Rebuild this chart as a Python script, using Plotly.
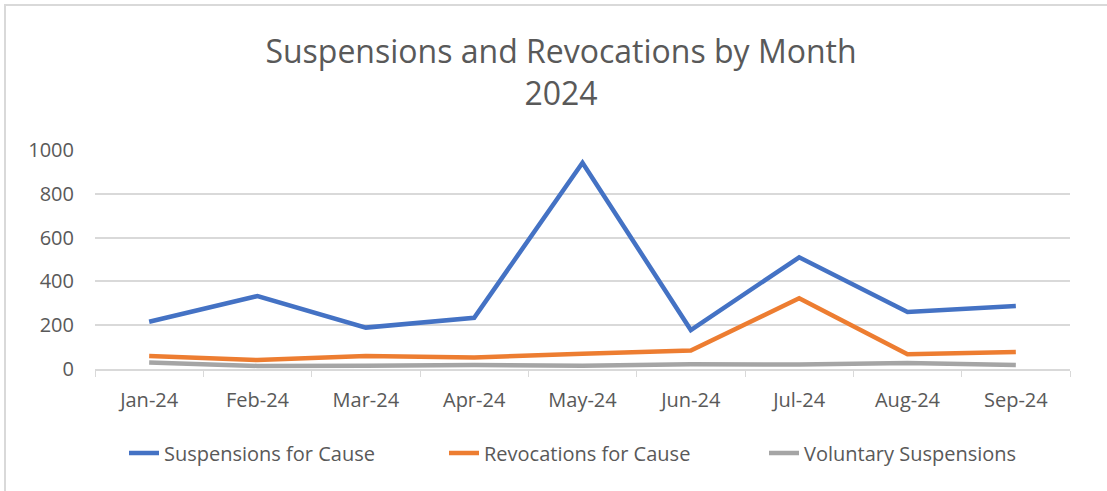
import plotly.graph_objects as go

months = ["Jan-24", "Feb-24", "Mar-24", "Apr-24", "May-24", "Jun-24", "Jul-24", "Aug-24", "Sep-24"]
suspensions_cause = [216, 333, 189, 234, 942, 178, 510, 260, 288]
revocations_cause = [59, 41, 59, 53, 70, 84, 323, 67, 78]
voluntary_susp = [30, 14, 15, 18, 15, 22, 20, 27, 18]
y_ticks = [0, 200, 400, 600, 800, 1000]

FONT = "Open Sans, sans-serif"
TXT = "#595959"

fig = go.Figure()
for name, vals, col in [
    ("Suspensions for Cause", suspensions_cause, "#4472C4"),
    ("Revocations for Cause", revocations_cause, "#ED7D31"),
    ("Voluntary Suspensions", voluntary_susp, "#A5A5A5"),
]:
    fig.add_trace(go.Scatter(x=months, y=vals, mode="lines", name=name,
                             line=dict(color=col, width=4.5)))

L, R, T, B = 95, 37, 150, 122
W, H = 1107, 491
pw = W - L - R
ph = H - T - B

def px_x(x):
    return (x - L) / pw

def px_y(y):
    return (H - B - y) / ph

fig.update_layout(
    width=W, height=H,
    margin=dict(l=L, r=R, t=T, b=B, autoexpand=False),
    paper_bgcolor="white", plot_bgcolor="white",
    font=dict(family=FONT, color=TXT, size=20),
    title=dict(text="Suspensions and Revocations by Month<br>2024",
               x=561 / W, xanchor="center", y=1 - 63 / H, yanchor="top",
               font=dict(size=32, color=TXT, family=FONT)),
    showlegend=True,
    legend=dict(orientation="h", x=px_x(124), xanchor="left",
                y=px_y(453), yanchor="middle",
                entrywidth=275, entrywidthmode="pixels",
                font=dict(size=20, color=TXT, family=FONT),
                bgcolor="rgba(0,0,0,0)"),
    xaxis=dict(range=[-0.5, 8.5], showgrid=False, showline=True, linecolor="#D9D9D9", linewidth=1.5,
               ticks="outside", tickson="boundaries", ticklen=6, tickcolor="#D9D9D9",
               ticklabelstandoff=12, tickfont=dict(size=20, color=TXT, family=FONT),
               fixedrange=True),
    yaxis=dict(range=[0, 1000], tickvals=y_ticks, showgrid=True, gridcolor="#D9D9D9",
               gridwidth=1.5, zeroline=False, showline=False, ticks="",
               ticklabelstandoff=20, tickfont=dict(size=20, color=TXT, family=FONT),
               fixedrange=True),
    shapes=[
        dict(type="rect", xref="paper", yref="paper", x0=px_x(5), x1=px_x(W + 20),
             y0=px_y(5), y1=px_y(H + 20), line=dict(color="#D9D9D9", width=2),
             fillcolor="rgba(0,0,0,0)", layer="below"),
    ],
)

fig.write_html("out.html", config={"displayModeBar": False},
               post_script="document.body.style.margin='0px';")
